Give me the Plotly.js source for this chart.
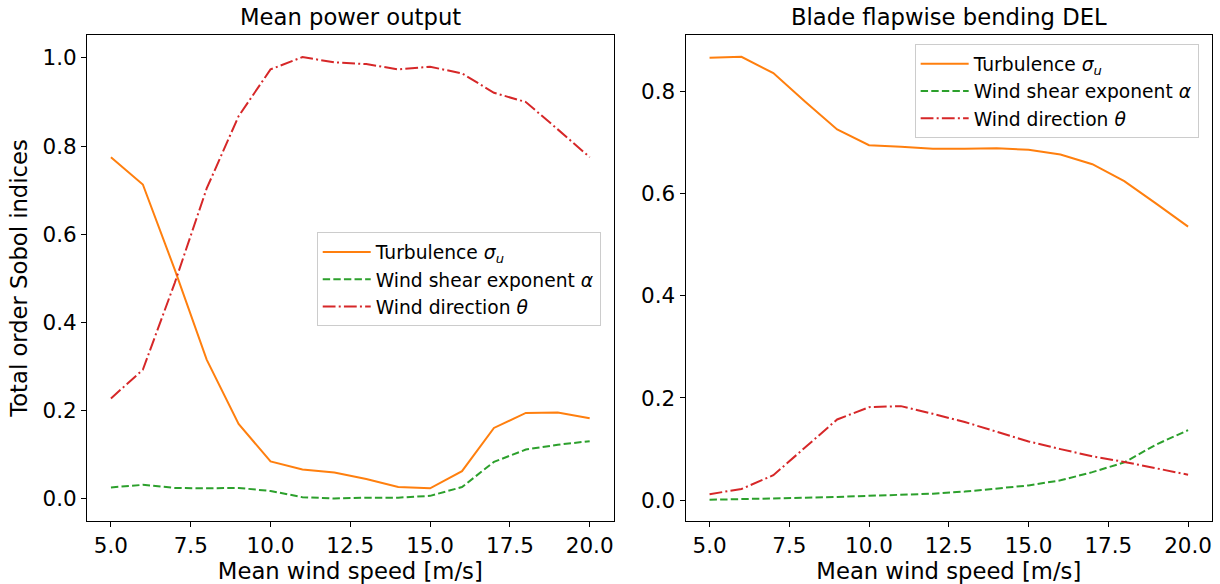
<!DOCTYPE html>
<html>
<head>
<meta charset="utf-8">
<script src="https://cdn.plot.ly/plotly-3.0.1.min.js"></script>
<style>
  html, body { margin: 0; padding: 0; background: #ffffff; }
  #chart { width: 1220px; height: 584px; }
</style>
</head>
<body>
<div id="chart"></div>
<script>
// ---- data ----
const windSpeed = [5, 6, 7, 8, 9, 10, 11, 12, 13, 14, 15, 16, 17, 18, 19, 20];

// Mean power output
const powerTurb  = [0.775, 0.713, 0.520, 0.316, 0.170, 0.085, 0.067, 0.060, 0.045, 0.027, 0.024, 0.063, 0.161, 0.195, 0.196, 0.183];
const powerShear = [0.026, 0.032, 0.025, 0.024, 0.025, 0.018, 0.004, 0.001, 0.003, 0.003, 0.007, 0.027, 0.084, 0.112, 0.123, 0.131];
const powerDir   = [0.228, 0.293, 0.490, 0.704, 0.868, 0.974, 1.002, 0.990, 0.986, 0.974, 0.980, 0.965, 0.921, 0.900, 0.838, 0.775];

// Blade flapwise bending DEL
const delTurb  = [0.865, 0.867, 0.835, 0.779, 0.725, 0.694, 0.691, 0.687, 0.687, 0.688, 0.685, 0.676, 0.657, 0.624, 0.580, 0.535];
const delShear = [0.001, 0.002, 0.004, 0.005, 0.0065, 0.0085, 0.010, 0.013, 0.017, 0.023, 0.029, 0.039, 0.055, 0.074, 0.109, 0.137];
const delDir   = [0.012, 0.022, 0.049, 0.104, 0.158, 0.182, 0.184, 0.169, 0.153, 0.134, 0.115, 0.100, 0.086, 0.075, 0.062, 0.050];

const seriesNames = [
  'Turbulence <i>σ</i><sub><i>u</i></sub>',
  'Wind shear exponent <i>α</i>',
  'Wind direction <i>θ</i>'
];
const panelTitles = ['Mean power output', 'Blade flapwise bending DEL'];
const xTitle = 'Mean wind speed [m/s]';
const yTitle = 'Total order Sobol indices';

// ---- styles ----
const FONT = 'DejaVu Sans, Verdana, sans-serif';
const colors = ['#ff7f0e', '#2ca02c', '#d62728'];
const dashes = ['solid', '7.4px,3.2px', '12.8px,3.2px,2px,3.2px'];

function mk(y, i, xa, ya, leg) {
  return {
    x: windSpeed, y: y, type: 'scatter', mode: 'lines',
    name: seriesNames[i], xaxis: xa, yaxis: ya, legend: leg,
    line: { color: colors[i], width: 2, dash: dashes[i] },
    hoverinfo: 'skip'
  };
}

const data = [
  mk(powerTurb, 0, 'x', 'y', 'legend'),
  mk(powerShear, 1, 'x', 'y', 'legend'),
  mk(powerDir, 2, 'x', 'y', 'legend'),
  mk(delTurb, 0, 'x2', 'y2', 'legend2'),
  mk(delShear, 1, 'x2', 'y2', 'legend2'),
  mk(delDir, 2, 'x2', 'y2', 'legend2')
];

const tickFont = { family: FONT, size: 21.5, color: '#000000' };
const labelFont = { family: FONT, size: 22.7, color: '#000000' };
function xAxis(domain, anchor) {
  return {
    domain: domain, anchor: anchor, range: [4.25, 20.75],
    tick0: 5, dtick: 2.5, tickformat: '.1f', tickangle: 0,
    showline: true, mirror: true, linecolor: '#000000', linewidth: 1,
    ticks: 'outside', ticklen: 5, tickwidth: 1, tickcolor: '#000000',
    showgrid: false, zeroline: false, tickfont: tickFont, automargin: false,
    title: { text: xTitle, font: labelFont, standoff: 4 }
  };
}
function yAxis(range, anchor, title) {
  const ax = {
    domain: [0, 1], anchor: anchor, range: range,
    tick0: 0, dtick: 0.2, tickformat: '.1f',
    showline: true, mirror: true, linecolor: '#000000', linewidth: 1,
    ticks: 'outside', ticklen: 5, tickwidth: 1, tickcolor: '#000000',
    showgrid: false, zeroline: false, tickfont: tickFont, automargin: false
  };
  if (title) ax.title = { text: title, font: labelFont, standoff: 8 };
  return ax;
}

const legendStyle = {
  font: { family: FONT, size: 18.7, color: '#000000' },
  bgcolor: 'rgba(255,255,255,0.8)', bordercolor: '#cccccc', borderwidth: 1,
  xanchor: 'left', yanchor: 'top', tracegroupgap: 0, itemwidth: 48
};

const layout = {
  width: 1220, height: 584,
  margin: { l: 87, r: 8, t: 35, b: 63, pad: 0, autoexpand: false },
  paper_bgcolor: '#ffffff', plot_bgcolor: '#ffffff',
  font: { family: FONT, color: '#000000' },
  xaxis: xAxis([0, 0.4681], 'y'),
  yaxis: yAxis([-0.05, 1.052], 'x', yTitle),
  xaxis2: xAxis([0.5321, 1], 'y2'),
  yaxis2: yAxis([-0.0405, 0.9095], 'x2', null),
  showlegend: true,
  legend: Object.assign({}, legendStyle, { x: 0.2042, y: 0.594 }),
  legend2: Object.assign({}, legendStyle, { x: 0.7357, y: 0.9815 }),
  annotations: [
    { text: panelTitles[0], xref: 'x domain', yref: 'y domain', x: 0.5, y: 1, xanchor: 'center', yanchor: 'bottom', yshift: 3, showarrow: false, font: labelFont },
    { text: panelTitles[1], xref: 'x2 domain', yref: 'y2 domain', x: 0.5, y: 1, xanchor: 'center', yanchor: 'bottom', yshift: 3, showarrow: false, font: labelFont }
  ]
};

Plotly.newPlot('chart', data, layout, { staticPlot: true, displayModeBar: false });
</script>
</body>
</html>
